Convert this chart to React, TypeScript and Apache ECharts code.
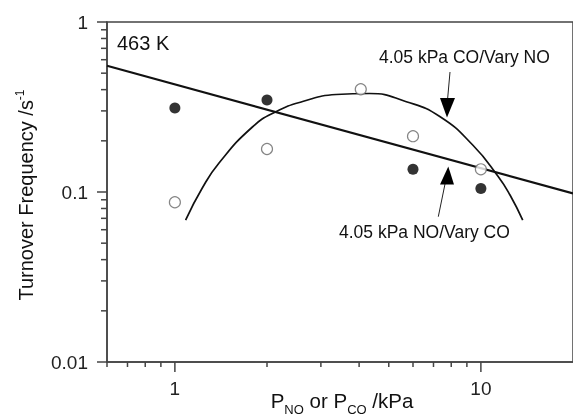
import { useEffect, useRef } from 'react';
import * as echarts from 'echarts';

// Filled circles: 4.05 kPa NO / vary CO
const filledP = [1, 2, 6, 10];
const filledTOF = [0.312, 0.348, 0.136, 0.105];
// Open circles: 4.05 kPa CO / vary NO
const openP = [1, 2, 4.05, 6, 10];
const openTOF = [0.087, 0.179, 0.402, 0.213, 0.136];
// Straight fit line (power law) end points
const fitP = [0.6, 20];
const fitTOF = [0.553, 0.098];
// Curved fit through open points
const curveP = [1.084, 1.229, 1.394, 1.792, 2.139, 2.615, 3.365, 4.326, 5.706, 7.339, 9.437, 11.39, 12.45, 13.7];
const curveTOF = [0.0684, 0.1056, 0.1482, 0.2412, 0.2968, 0.3406, 0.3746, 0.3797, 0.3398, 0.278, 0.1877, 0.1234, 0.096, 0.0684];

// Axis ticks
const xMajorTicks = [1, 10];
const xMinorTicks = [0.6, 0.7, 0.8, 0.9, 2, 3, 4, 5, 6, 7, 8, 9];
const yMajorTicks = [0.01, 0.1, 1];
const yMinorTicks = [0.02, 0.03, 0.04, 0.05, 0.06, 0.07, 0.08, 0.09, 0.2, 0.3, 0.4, 0.5, 0.6, 0.7, 0.8, 0.9];
const xLabelValues = [1, 10];
const yLabelValues = [0.01, 0.1, 1];

const X_MIN = 0.6;
const X_MAX = 20;
const Y_MIN = 0.01;
const Y_MAX = 1;

const FONT = '"Liberation Sans", Arial, Helvetica, sans-serif';
const AXIS_COLOR = '#444';

function fmt(v: number, list: number[]) {
  for (const t of list) {
    if (Math.abs(Math.log10(v) - Math.log10(t)) < 1e-6) return String(t);
  }
  return '';
}

export default function App() {
  const ref = useRef<HTMLDivElement>(null);
  useEffect(() => {
    document.body.style.margin = '0';
    const chart = echarts.init(ref.current!, null, { renderer: 'svg' });
    const baseGraphic: any[] = [
      {
        type: 'text',
        x: 117,
        y: 43,
        style: { text: '463 K', fontSize: 20, fontFamily: FONT, fill: '#111', verticalAlign: 'middle', align: 'left' },
      },
      {
        type: 'text',
        x: 379,
        y: 57,
        style: { text: '4.05 kPa CO/Vary NO', fontSize: 17.5, fontFamily: FONT, fill: '#111', verticalAlign: 'middle', align: 'left' },
      },
      {
        type: 'text',
        x: 339,
        y: 232,
        style: { text: '4.05 kPa NO/Vary CO', fontSize: 17.5, fontFamily: FONT, fill: '#111', verticalAlign: 'middle', align: 'left' },
      },
      {
        type: 'line',
        shape: { x1: 450, y1: 72, x2: 447.5, y2: 100 },
        style: { stroke: '#222', lineWidth: 1 },
      },
      {
        type: 'polygon',
        shape: { points: [[440, 98], [455, 98], [447, 117.5]] },
        style: { fill: '#000' },
      },
      {
        type: 'line',
        shape: { x1: 438.3, y1: 216.7, x2: 445, y2: 184 },
        style: { stroke: '#222', lineWidth: 1 },
      },
      {
        type: 'polygon',
        shape: { points: [[440, 184.5], [454, 184.5], [448.3, 166.5]] },
        style: { fill: '#000' },
      },
      {
        type: 'text',
        x: 342,
        y: 390,
        style: {
          text: '{m|P}{s|NO}{m| or P}{s|CO}{m| /kPa}',
          align: 'center',
          verticalAlign: 'top',
          rich: {
            m: { fontSize: 20.5, fontFamily: FONT, fill: '#111', color: '#111', lineHeight: 20, verticalAlign: 'top' },
            s: { fontSize: 13, fontFamily: FONT, fill: '#111', color: '#111', lineHeight: 13, verticalAlign: 'top', padding: [13, 0, 0, 0] },
          },
        },
      },
      {
        type: 'text',
        x: 25,
        y: 195,
        rotation: Math.PI / 2,
        style: {
          text: '{m|Turnover Frequency /s}{p|-1}',
          align: 'center',
          verticalAlign: 'middle',
          rich: {
            m: { fontSize: 20, fontFamily: FONT, fill: '#111', color: '#111', lineHeight: 22, verticalAlign: 'bottom' },
            p: { fontSize: 12, fontFamily: FONT, fill: '#111', color: '#111', lineHeight: 12, verticalAlign: 'top' },
          },
        },
      },
    ];
    const option: any = {
      animation: false,
      grid: {
        left: 107,
        right: -2,
        top: 22,
        bottom: 56,
        show: true,
        borderColor: AXIS_COLOR,
        borderWidth: 1.5,
        backgroundColor: 'transparent',
      },
      xAxis: {
        type: 'log',
        logBase: 10,
        min: X_MIN,
        max: X_MAX,
        axisLine: { show: true, onZero: false, lineStyle: { color: AXIS_COLOR, width: 1.5 } },
        axisTick: { show: false },
        splitLine: { show: false },
        axisLabel: {
          margin: 17,
          fontSize: 19,
          color: '#222',
          fontFamily: FONT,
          showMinLabel: false,
          showMaxLabel: false,
          formatter: (v: number) => fmt(v, xLabelValues),
        },
      },
      yAxis: {
        type: 'log',
        logBase: 10,
        min: Y_MIN,
        max: Y_MAX,
        axisLine: { show: true, onZero: false, lineStyle: { color: AXIS_COLOR, width: 1.5 } },
        axisTick: { show: false },
        splitLine: { show: false },
        axisLabel: {
          margin: 19,
          fontSize: 19,
          color: '#222',
          fontFamily: FONT,
          formatter: (v: number) => fmt(v, yLabelValues),
        },
      },
      series: [
        {
          type: 'line',
          name: 'fit',
          data: fitP.map((x, i) => [x, fitTOF[i]]),
          showSymbol: false,
          symbol: 'none',
          lineStyle: { color: '#111', width: 2.2 },
          z: 3,
        },
        {
          type: 'line',
          name: 'curve',
          data: curveP.map((x, i) => [x, curveTOF[i]]),
          showSymbol: false,
          symbol: 'none',
          smooth: 0.5,
          lineStyle: { color: '#111', width: 1.7 },
          z: 3,
        },
        {
          type: 'scatter',
          name: '4.05 kPa NO/Vary CO',
          data: filledP.map((x, i) => [x, filledTOF[i]]),
          symbol: 'circle',
          symbolSize: 11,
          itemStyle: { color: '#000', borderWidth: 0 },
          z: 5,
        },
        {
          type: 'scatter',
          name: '4.05 kPa CO/Vary NO',
          data: openP.map((x, i) => [x, openTOF[i]]),
          symbol: 'circle',
          symbolSize: 11,
          itemStyle: { color: '#fff', borderColor: '#666', borderWidth: 1.2 },
          z: 5,
        },
      ],
      graphic: baseGraphic,
    };
    chart.setOption(option);

    // Axis ticks placed through the chart's own log scales.
    const bottom = chart.convertToPixel({ yAxisIndex: 0 }, Y_MIN) as number;
    const left = chart.convertToPixel({ xAxisIndex: 0 }, X_MIN) as number;
    const tickEls: any[] = [];
    const addX = (v: number, len: number) => {
      const px = chart.convertToPixel({ xAxisIndex: 0 }, v) as number;
      tickEls.push({
        type: 'line',
        silent: true,
        shape: { x1: px, y1: bottom, x2: px, y2: bottom + len },
        style: { stroke: AXIS_COLOR, lineWidth: 1.5 },
      });
    };
    const addY = (v: number, len: number) => {
      const py = chart.convertToPixel({ yAxisIndex: 0 }, v) as number;
      tickEls.push({
        type: 'line',
        silent: true,
        shape: { x1: left - len, y1: py, x2: left, y2: py },
        style: { stroke: AXIS_COLOR, lineWidth: 1.5 },
      });
    };
    xMajorTicks.forEach((v) => addX(v, 10));
    xMinorTicks.forEach((v) => addX(v, 5));
    yMajorTicks.forEach((v) => addY(v, 10));
    yMinorTicks.forEach((v) => addY(v, 6));
    chart.setOption({ graphic: [...baseGraphic, ...tickEls] });

    return () => chart.dispose();
  }, []);
  return <div ref={ref} style={{ position: 'fixed', left: 0, top: 0, width: 573, height: 418 }} />;
}
